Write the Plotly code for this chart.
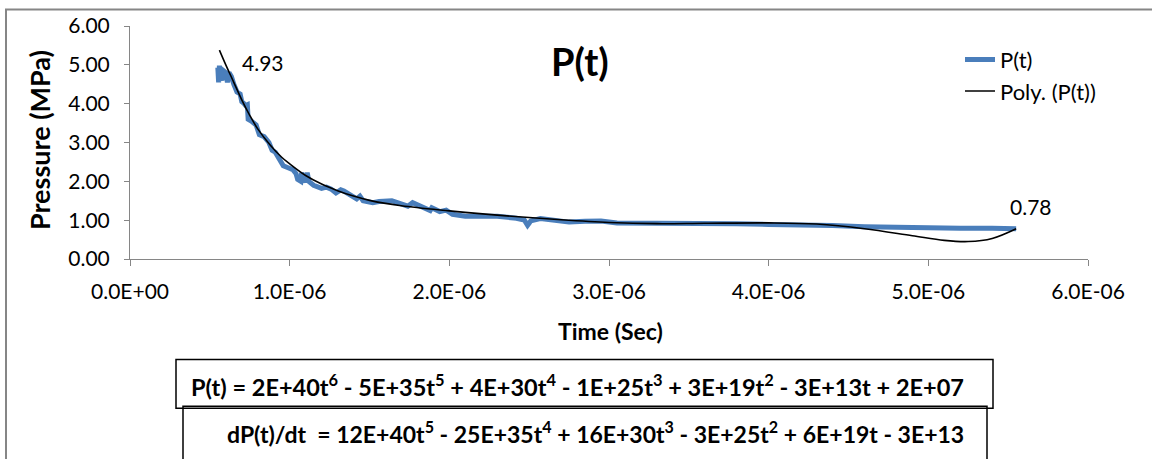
import plotly.graph_objects as go

# ---- data (time in microseconds, pressure in MPa) ----
t_us = [0.550, 0.552, 0.555, 0.560, 0.565, 0.575, 0.585, 0.600, 0.610, 0.620,
        0.635, 0.650, 0.670, 0.690, 0.700, 0.715, 0.725, 0.735, 0.740, 0.760,
        0.790, 0.810, 0.840, 0.870, 0.890, 0.910, 0.940, 0.960, 0.990, 1.020,
        1.040, 1.050, 1.070, 1.075, 1.090, 1.100, 1.110, 1.120, 1.150, 1.200,
        1.230, 1.260, 1.290, 1.320, 1.340, 1.380, 1.420, 1.440, 1.460, 1.520,
        1.560, 1.640, 1.700, 1.740, 1.770, 1.820, 1.880, 1.890, 1.940, 1.980,
        2.020, 2.100, 2.200, 2.300, 2.420, 2.470, 2.490, 2.510, 2.570, 2.650,
        2.750, 2.850, 2.950, 3.050, 3.200, 3.400, 3.600, 3.800, 4.000, 4.200,
        4.400, 4.600, 4.800, 5.000, 5.200, 5.400, 5.550]
pressure = [4.93, 4.75, 4.55, 4.98, 4.70, 4.60, 4.85, 4.80, 4.55, 4.80,
            4.70, 4.50, 4.30, 4.25, 4.05, 4.00, 3.95, 3.97, 3.60, 3.55,
            3.45, 3.20, 3.15, 3.00, 2.80, 2.75, 2.55, 2.40, 2.35, 2.30,
            2.20, 2.05, 2.00, 2.22, 2.05, 1.98, 2.22, 2.00, 1.90, 1.82,
            1.85, 1.80, 1.70, 1.78, 1.75, 1.65, 1.55, 1.62, 1.50, 1.45,
            1.48, 1.50, 1.40, 1.36, 1.45, 1.35, 1.25, 1.32, 1.22, 1.26,
            1.15, 1.10, 1.10, 1.10, 1.05, 1.00, 0.87, 0.98, 1.04, 1.00,
            0.95, 0.97, 0.98, 0.93, 0.93, 0.92, 0.93, 0.91, 0.89, 0.89,
            0.86, 0.83, 0.81, 0.80, 0.79, 0.79, 0.78]

# polynomial trend line
trend_t_us = [0.56, 0.60, 0.65, 0.70, 0.75, 0.80, 0.875, 0.95, 1.00, 1.10,
              1.20, 1.30, 1.40, 1.50, 1.70, 2.00, 2.30, 2.70, 3.00, 3.30,
              3.60, 4.00, 4.30, 4.60, 4.90, 5.10, 5.25, 5.40, 5.55]
trend_p = [5.38, 5.00, 4.55, 4.10, 3.70, 3.35, 2.95, 2.62, 2.45, 2.15,
           1.93, 1.76, 1.62, 1.51, 1.37, 1.24, 1.13, 1.01, 0.94, 0.91,
           0.92, 0.93, 0.90, 0.78, 0.60, 0.48, 0.45, 0.53, 0.78]

x_tick_vals = [0, 1e-6, 2e-6, 3e-6, 4e-6, 5e-6, 6e-6]
x_tick_text = ["0.0E+00", "1.0E-06", "2.0E-06", "3.0E-06", "4.0E-06", "5.0E-06", "6.0E-06"]
y_tick_vals = [0, 1, 2, 3, 4, 5, 6]
y_tick_text = ["0.00", "1.00", "2.00", "3.00", "4.00", "5.00", "6.00"]

title_text = "P(t)"
x_title = "Time (Sec)"
y_title = "Pressure (MPa)"
eq1 = ("P(t) = 2E+40t<sup>6</sup> - 5E+35t<sup>5</sup> + 4E+30t<sup>4</sup> - 1E+25t<sup>3</sup>"
       " + 3E+19t<sup>2</sup> - 3E+13t + 2E+07")
eq2 = ("dP(t)/dt  = 12E+40t<sup>5</sup> - 25E+35t<sup>4</sup> + 16E+30t<sup>3</sup>"
       " - 3E+25t<sup>2</sup> + 6E+19t - 3E+13")

t_sec = [v * 1e-6 for v in t_us]
trend_t_sec = [v * 1e-6 for v in trend_t_us]

FONT = "Lato"
BLUE = "#4a7ebb"
GRAY = "#868686"

fig = go.Figure()
fig.add_trace(go.Scatter(x=t_sec, y=pressure, mode="lines", name="P(t)",
                         line=dict(color=BLUE, width=5)))
fig.add_trace(go.Scatter(x=trend_t_sec, y=trend_p, mode="lines", name="Poly. (P(t))",
                         line=dict(color="black", width=1.6, shape="spline", smoothing=1.0)))

W, H = 1152, 459
L, R, T, B = 130, 64, 20, 200
pw, ph = W - L - R, H - T - B


def px(x):
    return (x - L) / pw


def py(y):
    return (H - B - y) / ph


fig.update_layout(
    width=W, height=H,
    margin=dict(l=L, r=R, t=T, b=B),
    paper_bgcolor="white", plot_bgcolor="white",
    font=dict(family=FONT, size=20, color="black"),
    showlegend=True,
    legend=dict(x=px(960), y=py(33), xanchor="left", yanchor="top",
                bgcolor="rgba(0,0,0,0)", font=dict(size=22, family=FONT),
                itemwidth=30, tracegroupgap=0),
    xaxis=dict(range=[0, 6e-6], tickvals=x_tick_vals, ticktext=x_tick_text,
               showgrid=False, zeroline=False, showline=True, linecolor=GRAY,
               linewidth=1, ticks="outside", ticklen=6, tickcolor=GRAY,
               ticklabelstandoff=8,
               tickfont=dict(size=21, family=FONT)),
    yaxis=dict(range=[0, 6], tickvals=y_tick_vals, ticktext=y_tick_text,
               showgrid=False, zeroline=False, showline=True, linecolor=GRAY,
               linewidth=1, ticks="outside", ticklen=5, tickcolor=GRAY,
               ticklabelstandoff=10,
               tickfont=dict(size=21, family=FONT)),
)

annotations = [
    dict(text="<b>%s</b>" % title_text, xref="paper", yref="paper", x=px(580), y=py(56),
         showarrow=False, font=dict(size=38, family=FONT), xanchor="center", yanchor="middle"),
    dict(text="<b>%s</b>" % x_title, xref="paper", yref="paper", x=px(610), y=py(333),
         showarrow=False, font=dict(size=23, family=FONT), xanchor="center", yanchor="middle"),
    dict(text="<b>%s</b>" % y_title, xref="paper", yref="paper", x=px(39), y=py(137),
         showarrow=False, font=dict(size=27, family=FONT), textangle=-90,
         xanchor="center", yanchor="middle"),
    dict(text="%.2f" % pressure[0], x=t_sec[0], y=pressure[0], xref="x", yref="y",
         showarrow=False, xanchor="left", yanchor="middle", xshift=22, yshift=5,
         font=dict(size=21, family=FONT)),
    dict(text="%.2f" % pressure[-1], x=t_sec[-1], y=pressure[-1], xref="x", yref="y",
         showarrow=False, xanchor="center", yanchor="middle", xshift=15, yshift=22,
         font=dict(size=21, family=FONT)),
    dict(text="<b>%s</b>" % eq1, xref="paper", yref="paper", x=px(577), y=py(389),
         showarrow=False, font=dict(size=23.5, family=FONT), xanchor="center", yanchor="middle"),
    dict(text="<b>%s</b>" % eq2, xref="paper", yref="paper", x=px(595), y=py(437),
         showarrow=False, font=dict(size=23, family=FONT), xanchor="center", yanchor="middle"),
]
fig.update_layout(annotations=annotations)

shapes = [
    # outer chart frame
    dict(type="rect", xref="paper", yref="paper", x0=px(6), x1=px(1160), y0=py(480), y1=py(3),
         line=dict(color=GRAY, width=2), fillcolor="rgba(0,0,0,0)", layer="below"),
    # equation boxes
    dict(type="rect", xref="paper", yref="paper", x0=px(183), x1=px(987), y0=py(480), y1=py(410),
         line=dict(color="black", width=1.5), fillcolor="white", layer="above"),
    dict(type="rect", xref="paper", yref="paper", x0=px(176), x1=px(993), y0=py(412), y1=py(362),
         line=dict(color="black", width=1.5), fillcolor="rgba(0,0,0,0)", layer="above"),
]
fig.update_layout(shapes=shapes)

fig.write_html("out.html", config={"displayModeBar": False},
               post_script="document.body.style.margin='0px';")
